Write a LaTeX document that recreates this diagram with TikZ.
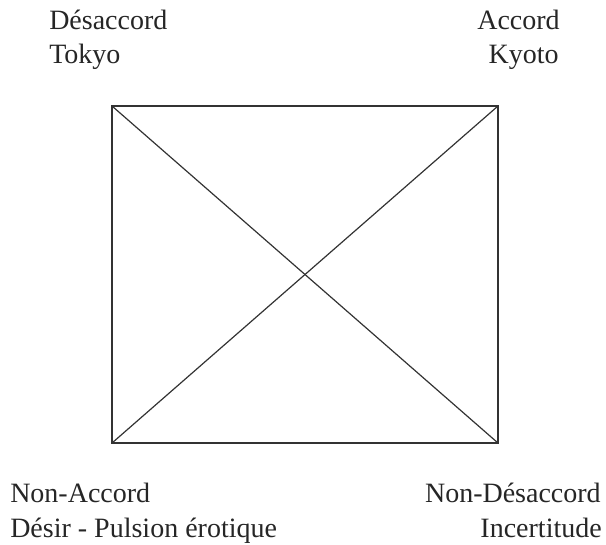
\documentclass[tikz,border=0pt]{standalone}
\usepackage{fontspec}
\setmainfont{Liberation Serif}
\usetikzlibrary{calc}

\begin{document}
\begin{tikzpicture}[x=0.75pt, y=-0.75pt, every node/.style={inner sep=0pt, font=\fontsize{21}{25}\selectfont, text=black!85}]
    \useasboundingbox (0,0) rectangle (606,544);
    \coordinate (NW) at (112,106); \coordinate (NE) at (498,106); \coordinate (SW) at (112,443); \coordinate (SE) at (498,443);
    \draw[line width=0.9pt, black!80] (NW) -- (NE) -- (SE) -- (SW) -- cycle;
    \draw[line width=0.9pt, black!80] (NW) -- (SE); \draw[line width=0.9pt, black!80] (SW) -- (NE);
    
    \node[anchor=base west] (desaccord) at (49,29) {Désaccord}; \node[anchor=base west] (tokyo) at (49,63) {Tokyo};
    \node[anchor=base east] (accord) at (560,29) {Accord}; \node[anchor=base east] (kyoto) at (559,63) {Kyoto};
    \node[anchor=base west] (nonaccord) at (10,502) {Non-Accord}; \node[anchor=base west] (desir) at (10,537) {Désir - Pulsion érotique};
    \node[anchor=base east] (nondesaccord) at (601,502) {Non-Désaccord}; \node[anchor=base east] (incertitude) at (602,537) {Incertitude};
\end{tikzpicture}
\end{document}
